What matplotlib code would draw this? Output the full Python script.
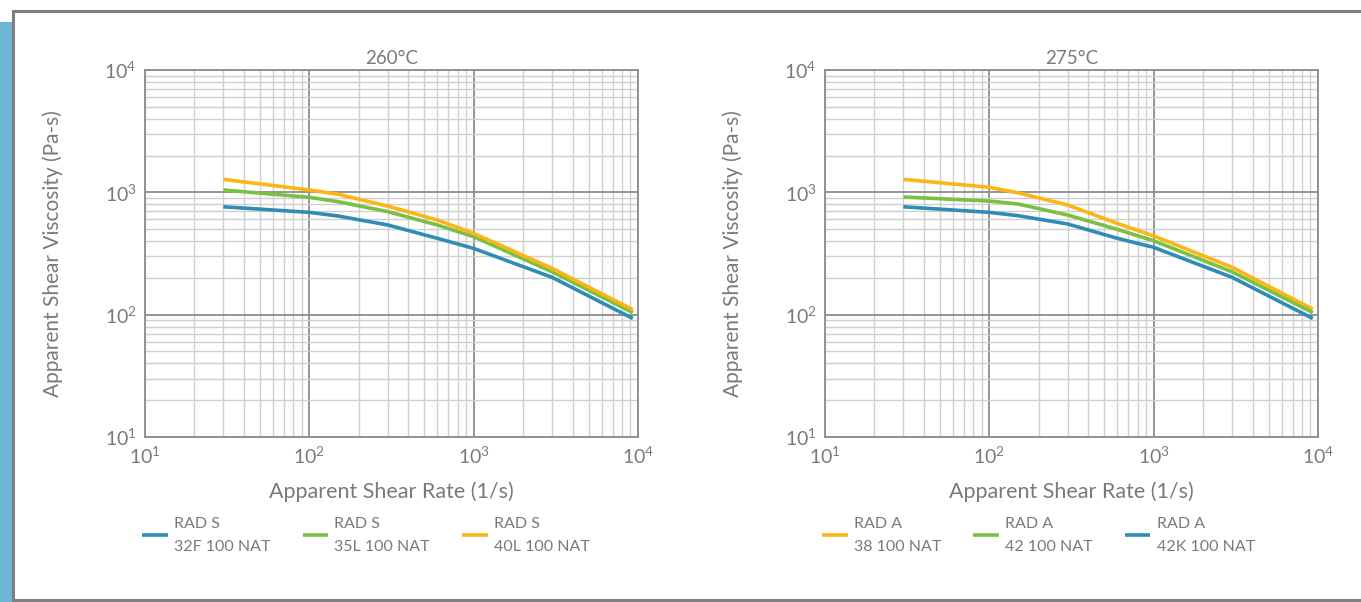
import numpy as np
import matplotlib
matplotlib.use("Agg")
import matplotlib.pyplot as plt
from matplotlib.patches import Rectangle
from matplotlib.ticker import LogLocator, NullFormatter, FixedLocator

plt.rcParams['font.family'] = ['Lato', 'DejaVu Sans']

# shear rate (1/s) at the curve vertices
rate = [30, 100, 150, 300, 600, 1000, 3000, 9300]

# 260 C panel
rad_s_32f = [762, 686, 640, 541, 421, 348, 202, 93]
rad_s_35l = [1045, 910, 838, 695, 541, 434, 224, 104]
rad_s_40l = [1277, 1045, 963, 772, 594, 462, 239, 110]

# 275 C panel
rad_a_38 = [1277, 1099, 990, 787, 558, 440, 244, 111]
rad_a_42 = [916, 849, 802, 652, 498, 402, 224, 104]
rad_a_42k = [762, 686, 644, 551, 421, 355, 202, 93]

titles = ["260°C", "275°C"]
xticks = [1e1, 1e2, 1e3, 1e4]
xticklabels = ["$\\mathregular{10^1}$", "$\\mathregular{10^2}$",
               "$\\mathregular{10^3}$", "$\\mathregular{10^4}$"]

BLUE = "#2f8db5"
GREEN = "#7ac143"
ORANGE = "#fdb515"
TXT = "#7a7a7a"

panels = [
    [(rad_s_32f, BLUE, "RAD S\n32F 100 NAT"),
     (rad_s_35l, GREEN, "RAD S\n35L 100 NAT"),
     (rad_s_40l, ORANGE, "RAD S\n40L 100 NAT")],
    [(rad_a_38, ORANGE, "RAD A\n38 100 NAT"),
     (rad_a_42, GREEN, "RAD A\n42 100 NAT"),
     (rad_a_42k, BLUE, "RAD A\n42K 100 NAT")],
]

W, H = 1361, 602
fig = plt.figure(figsize=(W / 100, H / 100), dpi=100)

# blue strip and gray frame (behind the axes)
fig.patches.append(Rectangle((0, 0), 13 / W, (H - 22) / H, transform=fig.transFigure,
                             facecolor="#6db6d7", edgecolor="none", zorder=-2))
fig.patches.append(Rectangle((13 / W, 2 / H), 1.2, (H - 13) / H, transform=fig.transFigure,
                             facecolor="white", edgecolor="#7f7f7f", linewidth=2.2, zorder=-1))

lefts = [145, 825]
for i, left in enumerate(lefts):
    ax = fig.add_axes([left / W, (H - 437) / H, 493 / W, 367 / H])
    ax.set_xscale("log")
    ax.set_yscale("log")
    ax.set_xlim(1e1, 1e4)
    ax.set_ylim(1e1, 1e4)

    for vals, col, lab in panels[i]:
        ax.plot(rate, vals, color=col, linewidth=2.6, label=lab, solid_capstyle="butt", zorder=3)

    ax.xaxis.set_major_locator(FixedLocator(xticks))
    ax.set_xticklabels(xticklabels)
    ax.yaxis.set_major_locator(FixedLocator(xticks))
    ax.set_yticklabels(xticklabels)
    ax.xaxis.set_minor_locator(LogLocator(base=10, subs=np.arange(2, 10)))
    ax.yaxis.set_minor_locator(LogLocator(base=10, subs=np.arange(2, 10)))
    ax.xaxis.set_minor_formatter(NullFormatter())
    ax.yaxis.set_minor_formatter(NullFormatter())

    ax.grid(which="major", color="#8c8c8c", linewidth=1.3)
    ax.grid(which="minor", color="#cfcfcf", linewidth=1.0)
    ax.set_axisbelow(True)
    ax.tick_params(which="both", length=0, labelsize=14, colors=TXT)
    ax.tick_params(axis="x", pad=6)
    ax.tick_params(axis="y", pad=6)
    for s in ax.spines.values():
        s.set_color("#8c8c8c")
        s.set_linewidth(1.3)

    ax.set_title(titles[i], fontsize=13.5, color=TXT, pad=4)
    ax.set_xlabel("Apparent Shear Rate (1/s)", fontsize=15.5, color=TXT, labelpad=11)
    ax.set_ylabel("Apparent Shear Viscosity (Pa-s)", fontsize=15, color=TXT, labelpad=30)

    leg = ax.legend(loc="upper left", bbox_to_anchor=(-0.035, -0.178), ncol=3, frameon=False,
                    fontsize=11.5, handlelength=1.6, handletextpad=0.4, columnspacing=2.0,
                    labelcolor=TXT)
    for t in leg.get_texts():
        t.set_multialignment("left")
        t.set_linespacing(1.85)

fig.savefig("out.png", dpi=100)
